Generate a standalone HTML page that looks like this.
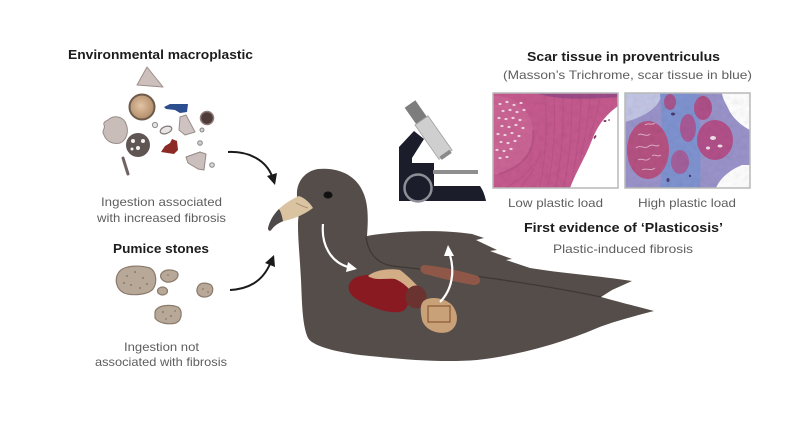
<!DOCTYPE html>
<html>
<head>
<meta charset="utf-8">
<style>
  html,body{margin:0;padding:0;background:#ffffff;}
  svg{display:block;}
  text{font-family:"Liberation Sans", Arial, sans-serif;}
  .h{font-weight:bold;fill:#1c1c1c;font-size:12.5px;}
  .g{fill:#5e5e5e;font-size:12px;}
</style>
</head>
<body>
<svg width="800" height="443" viewBox="0 0 800 443" xmlns="http://www.w3.org/2000/svg">
  <defs>
    <radialGradient id="ball" cx="0.45" cy="0.45" r="0.6">
      <stop offset="0" stop-color="#e2c3a2"/>
      <stop offset="1" stop-color="#ad8866"/>
    </radialGradient>
    <clipPath id="clipL"><rect x="493" y="93" width="125" height="95"/></clipPath>
    <clipPath id="clipR"><rect x="625" y="93" width="125" height="95"/></clipPath>
    <filter id="noise" x="0" y="0" width="100%" height="100%">
      <feTurbulence type="fractalNoise" baseFrequency="0.18" numOctaves="2" seed="7"/>
      <feColorMatrix type="saturate" values="0"/>
    </filter>
  </defs>

  <rect x="0" y="0" width="800" height="443" fill="#ffffff"/>

  <!-- ============ LEFT TEXT ============ -->
  <text class="h" x="68" y="59" textLength="185" lengthAdjust="spacingAndGlyphs">Environmental macroplastic</text>
  <text class="g" x="101" y="206" textLength="121" lengthAdjust="spacingAndGlyphs">Ingestion associated</text>
  <text class="g" x="97" y="222" textLength="129" lengthAdjust="spacingAndGlyphs">with increased fibrosis</text>
  <text class="h" x="113" y="253" textLength="96" lengthAdjust="spacingAndGlyphs">Pumice stones</text>
  <text class="g" x="124" y="351" textLength="75" lengthAdjust="spacingAndGlyphs">Ingestion not</text>
  <text class="g" x="95" y="366" textLength="132" lengthAdjust="spacingAndGlyphs">associated with fibrosis</text>

  <!-- ============ PLASTIC PIECES ============ -->
  <path d="M137,85 L147,67 L163,87 Z" fill="#cdbfbb" stroke="#9b8e8a" stroke-width="1" stroke-linejoin="round"/>
  <circle cx="142" cy="107" r="12.5" fill="url(#ball)" stroke="#6e5a4a" stroke-width="2"/>
  <path d="M164,107 L170,104 L188,104 L187,112 L180,113 L175,110 L166,109 Z" fill="#2c4d8e"/>
  <circle cx="207" cy="118" r="6.5" fill="#4e3c3b" stroke="#8f7d78" stroke-width="1.5"/>
  <path d="M108,120 C114,114 124,117 126,124 C129,131 127,140 120,143 C113,145 106,141 104,135 C101,131 106,128 104,125 C103,122 106,121 108,120 Z" fill="#c9bdba" stroke="#978b88" stroke-width="1"/>
  <circle cx="155" cy="125" r="2.6" fill="#e2e2e2" stroke="#8d8d8d" stroke-width="1"/>
  <ellipse cx="166" cy="130" rx="6" ry="3.5" transform="rotate(-20 166 130)" fill="#e6e3e2" stroke="#7f7a78" stroke-width="1.2"/>
  <path d="M180,117 L186,115 L195,132 L185,135 L179,130 Z" fill="#cfc3c1" stroke="#978d8a" stroke-width="1" stroke-linejoin="round"/>
  <circle cx="202" cy="130" r="2" fill="#cfcfcf" stroke="#888" stroke-width="1"/>
  <circle cx="138" cy="145" r="12" fill="#5f5654"/>
  <circle cx="133" cy="141" r="2" fill="#f2f2f2"/>
  <circle cx="143" cy="141" r="2" fill="#f2f2f2"/>
  <circle cx="138" cy="148" r="2" fill="#f2f2f2"/>
  <circle cx="132" cy="149" r="1.5" fill="#f2f2f2"/>
  <circle cx="200" cy="143" r="2.3" fill="#cfcfcf" stroke="#888" stroke-width="1"/>
  <path d="M161,152 L165,146 L170,143 L172,139 L177,141 L178,150 L174,154 Z" fill="#8c2b26"/>
  <path d="M186,157 L200,152 L206,154 L204,170 L198,169 L188,163 Z" fill="#cbbfbd" stroke="#938886" stroke-width="1" stroke-linejoin="round"/>
  <circle cx="212" cy="165" r="2.3" fill="#d6d6d6" stroke="#888" stroke-width="1"/>
  <line x1="123" y1="158" x2="128" y2="174" stroke="#6e6462" stroke-width="3" stroke-linecap="round"/>

  <!-- ============ PUMICE ============ -->
  <g fill="#b8a898" stroke="#8a7a6c" stroke-width="1.2">
    <path d="M119,272 C124,265 140,265 150,268 C157,272 157,283 153,289 C148,295 132,296 124,293 C116,289 114,279 119,272 Z"/>
    <path d="M161,274 C164,269 172,269 177,272 C180,276 176,281 170,282 C165,283 159,279 161,274 Z"/>
    <ellipse cx="162.5" cy="291" rx="5" ry="4"/>
    <path d="M199,285 C202,282 208,283 211,285 C214,288 213,294 209,296 C205,298 200,297 198,294 C196,291 197,287 199,285 Z"/>
    <path d="M155,312 C157,305 170,304 178,307 C183,311 182,320 176,323 C168,325 158,323 155,318 Z"/>
  </g>
  <g fill="#8a7a6c">
    <circle cx="127" cy="276" r="1"/><circle cx="135" cy="272" r="1"/><circle cx="143" cy="278" r="1"/>
    <circle cx="131" cy="285" r="1"/><circle cx="140" cy="288" r="1"/><circle cx="147" cy="284" r="1"/>
    <circle cx="124" cy="283" r="1"/><circle cx="168" cy="275" r="0.9"/><circle cx="203" cy="289" r="0.9"/>
    <circle cx="208" cy="292" r="0.9"/><circle cx="163" cy="312" r="1"/><circle cx="171" cy="316" r="1"/>
    <circle cx="166" cy="319" r="0.9"/><circle cx="175" cy="311" r="0.9"/>
  </g>

  <!-- ============ BLACK ARROWS ============ -->
  <path d="M228,152 C250,151 266,161 272,176" fill="none" stroke="#1a1a1a" stroke-width="2"/>
  <polygon points="275,185 277,173 267,176" fill="#1a1a1a"/>
  <path d="M230,290 C248,289 262,282 270,264" fill="none" stroke="#1a1a1a" stroke-width="2"/>
  <polygon points="274,255 275,267 265,263" fill="#1a1a1a"/>

  <!-- ============ MICROSCOPE ============ -->
  <path d="M399,201 L399,147 L414,131 L424,139 L412,158 L412,163 L434,163 L434,186 L480,186 C483,190 485,196 486,201 Z" fill="#1b1d2b"/>
  <rect x="433" y="170" width="45" height="4" fill="#8e8e8e"/>
  <circle cx="418" cy="188" r="13.5" fill="#1b1d2b" stroke="#8e8e96" stroke-width="2.5"/>
  <g transform="translate(410,104) rotate(55)">
    <rect x="0" y="-6.5" width="21" height="13" fill="#7d7d7d"/>
    <rect x="20" y="-8" width="42" height="16" fill="#cfcfcf" stroke="#a0a0a0" stroke-width="0.8"/>
    <rect x="60" y="-6" width="4" height="12" fill="#8a8a8a"/>
  </g>

  <!-- ============ RIGHT TEXT ============ -->
  <text class="h" x="527" y="61" textLength="193" lengthAdjust="spacingAndGlyphs">Scar tissue in proventriculus</text>
  <text class="g" x="503" y="79" textLength="249" lengthAdjust="spacingAndGlyphs">(Masson’s Trichrome, scar tissue in blue)</text>
  <text class="g" x="508" y="207" textLength="95" lengthAdjust="spacingAndGlyphs">Low plastic load</text>
  <text class="g" x="638" y="207" textLength="98" lengthAdjust="spacingAndGlyphs">High plastic load</text>
  <text class="h" x="524" y="232" textLength="199" lengthAdjust="spacingAndGlyphs">First evidence of ‘Plasticosis’</text>
  <text class="g" x="553" y="253" textLength="140" lengthAdjust="spacingAndGlyphs">Plastic-induced fibrosis</text>

  <!-- ============ HISTOLOGY LEFT ============ -->
  <g clip-path="url(#clipL)">
    <rect x="493" y="93" width="125" height="95" fill="#c65a8e"/>
    <path d="M535,93 C560,101 592,99 618,97 L618,93 Z" fill="#9d4b88"/>
    <path d="M493,96 C515,95 531,110 533,130 C535,150 525,166 499,174 L493,175 Z" fill="#cc6596"/>
    <path d="M533,130 C535,150 525,166 499,174" fill="none" stroke="#a9447f" stroke-width="2" opacity="0.45"/>
    <g fill="none" stroke="#a8437f" stroke-width="1" opacity="0.3">
      <path d="M540,188 C545,160 548,130 545,96"/>
      <path d="M548,188 C553,160 556,130 554,96"/>
      <path d="M556,188 C561,160 564,130 563,96"/>
      <path d="M564,188 C569,160 572,130 572,98"/>
      <path d="M572,180 C577,155 580,128 581,98"/>
      <path d="M580,160 C585,140 588,120 590,99"/>
      <path d="M589,140 C593,125 597,112 600,99"/>
      <path d="M520,188 C530,175 538,165 540,150"/>
      <path d="M505,188 C520,180 530,172 536,160"/>
    </g>
    <g fill="#f1d6e4">
      <ellipse cx="500" cy="104" rx="1.6" ry="1.1"/><ellipse cx="507" cy="102" rx="1.6" ry="1.1"/>
      <ellipse cx="514" cy="105" rx="1.6" ry="1.1"/><ellipse cx="521" cy="103" rx="1.6" ry="1.1"/>
      <ellipse cx="503" cy="111" rx="1.6" ry="1.1"/><ellipse cx="510" cy="110" rx="1.6" ry="1.1"/>
      <ellipse cx="517" cy="112" rx="1.6" ry="1.1"/><ellipse cx="524" cy="110" rx="1.6" ry="1.1"/>
      <ellipse cx="499" cy="118" rx="1.6" ry="1.1"/><ellipse cx="506" cy="119" rx="1.6" ry="1.1"/>
      <ellipse cx="513" cy="118" rx="1.6" ry="1.1"/><ellipse cx="520" cy="120" rx="1.6" ry="1.1"/>
      <ellipse cx="502" cy="126" rx="1.6" ry="1.1"/><ellipse cx="509" cy="127" rx="1.6" ry="1.1"/>
      <ellipse cx="516" cy="125" rx="1.6" ry="1.1"/><ellipse cx="523" cy="128" rx="1.6" ry="1.1"/>
      <ellipse cx="498" cy="134" rx="1.6" ry="1.1"/><ellipse cx="505" cy="135" rx="1.6" ry="1.1"/>
      <ellipse cx="512" cy="133" rx="1.6" ry="1.1"/><ellipse cx="519" cy="136" rx="1.6" ry="1.1"/>
      <ellipse cx="501" cy="142" rx="1.6" ry="1.1"/><ellipse cx="508" cy="143" rx="1.6" ry="1.1"/>
      <ellipse cx="515" cy="141" rx="1.6" ry="1.1"/><ellipse cx="497" cy="150" rx="1.6" ry="1.1"/>
      <ellipse cx="504" cy="151" rx="1.6" ry="1.1"/><ellipse cx="511" cy="149" rx="1.6" ry="1.1"/>
      <ellipse cx="500" cy="158" rx="1.6" ry="1.1"/><ellipse cx="507" cy="157" rx="1.6" ry="1.1"/>
    </g>
    <rect x="493" y="93" width="125" height="95" filter="url(#noise)" opacity="0.2" style="mix-blend-mode:multiply"/>
    <path d="M618,106 C607,114 598,124 592,140 C585,158 576,172 570,188 L618,188 Z" fill="#ffffff"/>
    <g fill="#7a3a62">
      <ellipse cx="605" cy="121" rx="1.5" ry="1"/><ellipse cx="609" cy="120" rx="1" ry="0.8"/>
      <ellipse cx="595" cy="137" rx="1" ry="2" transform="rotate(30 595 137)"/>
    </g>
  </g>
  <rect x="493" y="93" width="125" height="95" fill="none" stroke="#b8b8b8" stroke-width="1.5"/>

  <!-- ============ HISTOLOGY RIGHT ============ -->
  <g clip-path="url(#clipR)">
    <rect x="625" y="93" width="125" height="95" fill="#9a94cb"/>
    <path d="M625,93 L662,93 C660,105 650,115 625,122 Z" fill="#c4c6e6"/>
    <path d="M660,93 L700,93 C698,120 702,150 700,188 L660,188 C664,160 662,120 660,93 Z" fill="#8094d2"/>
    <ellipse cx="648" cy="150" rx="21" ry="29" fill="#b65283"/>
    <g fill="none" stroke="#e8c6d8" stroke-width="1" opacity="0.8">
      <path d="M638,135 C642,132 646,138 650,134"/>
      <path d="M636,148 C640,144 645,150 649,146 C653,143 656,148 659,145"/>
      <path d="M638,160 C642,157 646,163 650,158"/>
      <path d="M642,170 C646,167 650,172 655,168"/>
      <path d="M645,125 C648,122 652,126 655,123"/>
      <path d="M652,156 C655,153 658,158 661,155"/>
    </g>
    <ellipse cx="715" cy="140" rx="18" ry="20" fill="#b3508a"/>
    <ellipse cx="703" cy="108" rx="9" ry="12" fill="#b0508a"/>
    <ellipse cx="688" cy="128" rx="8" ry="14" fill="#a85a97"/>
    <ellipse cx="680" cy="162" rx="9" ry="12" fill="#a4609d"/>
    <ellipse cx="670" cy="102" rx="6" ry="8" fill="#a8568f"/>
    <path d="M722,93 L750,93 L750,130 C742,126 732,118 728,108 C725,102 722,97 722,93 Z" fill="#ffffff"/>
    <path d="M716,188 C720,178 730,170 742,165 L750,165 L750,188 Z" fill="#ffffff"/>
    <g fill="#efe0ea">
      <ellipse cx="713" cy="138" rx="3" ry="2"/><ellipse cx="720" cy="146" rx="2.5" ry="1.5"/>
      <ellipse cx="708" cy="148" rx="2" ry="1.5"/>
    </g>
    <g fill="#4a3a6e">
      <ellipse cx="673" cy="114" rx="2" ry="1.5"/><ellipse cx="668" cy="180" rx="1.5" ry="2"/>
      <ellipse cx="690" cy="176" rx="1.2" ry="1.2"/>
    </g>
    <rect x="625" y="93" width="125" height="95" filter="url(#noise)" opacity="0.2" style="mix-blend-mode:multiply"/>
  </g>
  <rect x="625" y="93" width="125" height="95" fill="none" stroke="#b8b8b8" stroke-width="1.5"/>

  <!-- ============ BIRD ============ -->
  <path d="M297,196 C296,182 305,171 318,169 C338,167 356,175 363,192 C369,205 368,222 367,236
           C395,231 440,229 472,234 L484,238 L476,240 L497,250 L490,251 L512,259 L506,260 L530,268
           C560,273 600,276 632,281 L612,290 L601,297
           C615,301 635,306 654,311
           C635,316 610,322 590,331
           C560,343 520,355 477,360
           C440,363 400,359 360,355
           C330,351 312,345 308,338
           C302,325 302,300 301,280
           C300,260 298,240 298,225
           C298,218 299,212 300,210 Z" fill="#554d49"/>
  <!-- wing lower edge -->
  <path d="M366,237 C368,252 376,263 392,266 C450,272 540,284 601,297" fill="none" stroke="#3e3733" stroke-width="1.3"/>
  <!-- beak -->
  <path d="M299,196 C292,199 284,204 279,209 C274,214 270,220 268,228 C268,231 270,232 272,229 C275,225 280,222 288,220 C296,218 305,214 313,208 C310,203 305,198 299,196 Z" fill="#d9c3a1"/>
  <path d="M279,209 C274,214 270,220 268,228 C268,231 270,232 272,229 C275,225 279,223 283,221 C282,216 281,212 279,209 Z" fill="#4d484a"/>
  <path d="M296,203 C300,205 304,207 308,208" fill="none" stroke="#a08a6e" stroke-width="0.8"/>
  <!-- eye -->
  <ellipse cx="328" cy="195" rx="4.5" ry="3.5" fill="#111"/>

  <!-- organs -->
  <path d="M424,265 C440,266 465,272 478,276 C482,280 480,285 474,285 C460,283 440,278 425,274 C419,272 419,266 424,265 Z" fill="#8f5748"/>
  <path d="M352,280 C360,272 385,274 400,280 C412,286 412,305 403,311 C390,316 365,305 355,298 C347,292 347,285 352,280 Z" fill="#8a1a22"/>
  <path d="M368,276 C375,270 390,268 400,270 C407,275 416,284 425,294 L418,299 C411,290 403,282 395,279 C385,278 375,281 368,276 Z" fill="#d3ad85"/>
  <ellipse cx="416" cy="297" rx="10.5" ry="11.5" fill="#6b3330"/>
  <path d="M425,300 C432,296 445,298 452,305 C460,315 458,328 448,332 C438,335 425,330 422,320 C420,310 420,303 425,300 Z" fill="#c9a179"/>
  <rect x="428" y="306" width="22" height="16" fill="none" stroke="#8c5a36" stroke-width="1.2"/>

  <!-- white arrows -->
  <path d="M323,224 C321,245 331,262 348,267" fill="none" stroke="#ffffff" stroke-width="2.2"/>
  <polygon points="357,269 346,272 348,262" fill="#ffffff"/>
  <path d="M440,302 C452,290 455,272 450,255" fill="none" stroke="#ffffff" stroke-width="2.2"/>
  <polygon points="448,245 454,256 444,256" fill="#ffffff"/>
</svg>
</body>
</html>
